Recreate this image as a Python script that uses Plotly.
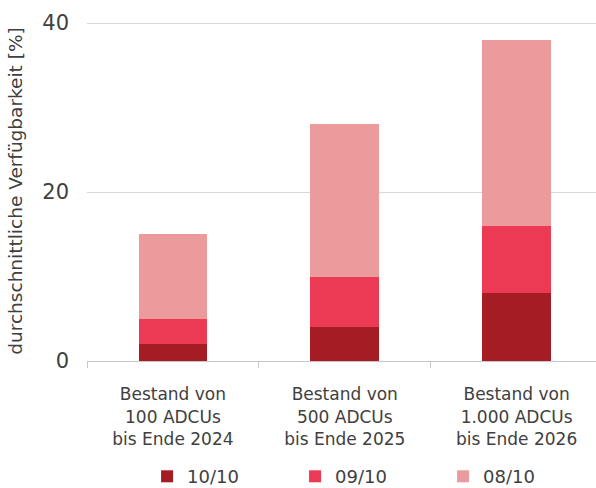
import plotly.graph_objects as go

categories = ["Bestand von<br>100 ADCUs<br>bis Ende 2024",
              "Bestand von<br>500 ADCUs<br>bis Ende 2025",
              "Bestand von<br>1.000 ADCUs<br>bis Ende 2026"]
series_names = ["10/10", "09/10", "08/10"]
vals_10 = [2, 4, 8]
vals_09 = [3, 6, 8]
vals_08 = [10, 18, 22]
colors = ["#A61C24", "#EC3A55", "#EC9B9C"]
y_ticks = [0, 20, 40]

FONT = "DejaVu Sans"
TXT = "#404040"

fig = go.Figure()
for name, vals, col in zip(series_names, [vals_10, vals_09, vals_08], colors):
    fig.add_trace(go.Bar(x=categories, y=vals, name=name, marker_color=col,
                         marker_line_width=0, width=0.4))

fig.update_layout(
    barmode="stack",
    width=596, height=488,
    margin=dict(l=87, r=0, t=21, b=127, autoexpand=False),
    paper_bgcolor="white", plot_bgcolor="white",
    font=dict(family=FONT, color=TXT, size=17),
    showlegend=True,
    legend=dict(orientation="h", x=0.118, xanchor="left", y=-0.34, yanchor="middle",
                entrywidth=103, entrywidthmode="pixels", font=dict(size=18, color=TXT),
                traceorder="normal", itemwidth=30),
    xaxis=dict(range=[-0.5, 2.462], showline=True, linecolor="#c8c8c8", linewidth=1,
               ticks="outside", tickson="boundaries", ticklen=6, tickcolor="#c8c8c8",
               tickfont=dict(size=17, color=TXT), ticklabelstandoff=18,
               showgrid=False, fixedrange=True),
    yaxis=dict(range=[0, 40.24], tickvals=y_ticks, showgrid=True, gridcolor="#d9d9d9",
               gridwidth=1, zeroline=False, showline=False, ticks="",
               tickfont=dict(size=21, color=TXT), ticklabelstandoff=17,
               title=dict(text="durchschnittliche Verfügbarkeit [%]", font=dict(size=18.5, color=TXT),
                          standoff=14)),
)

fig.write_html("out.html", config={"displayModeBar": False},
               post_script="document.body.style.margin='0';")
